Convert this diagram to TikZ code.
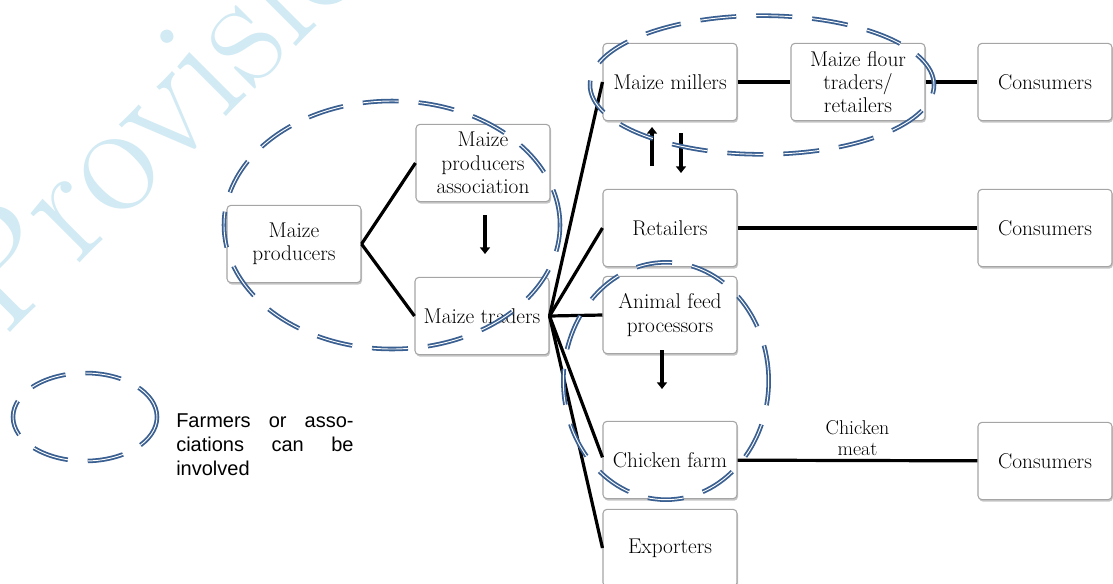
\documentclass[tikz,border=0pt]{standalone}
\usepackage{fontspec}
\newfontfamily\legendfont{Liberation Sans}
\usetikzlibrary{shadows,arrows.meta}

\definecolor{ovalblue}{RGB}{58,95,145}
\definecolor{wmblue}{RGB}{210,234,243}
\definecolor{boxedge}{RGB}{165,165,165}

\begin{document}
\begin{tikzpicture}[x=0.75pt,y=-0.75pt,
  stage/.style={draw=boxedge, line width=0.8pt, fill=white, rounded corners=3pt,
    minimum width=100.5pt, minimum height=58pt, align=center, inner sep=2pt,
    font=\fontsize{16}{17.5}\selectfont,
    drop shadow={shadow xshift=0.8pt, shadow yshift=-1.5pt, fill=black!45, opacity=0.5}},
  link/.style={line width=2.4pt, black},
  flow/.style={line width=3pt, -{Triangle[width=7.5pt,length=5pt]}},
  oval/.style={draw=ovalblue, line width=3.4pt, dash pattern=on 27pt off 15pt,
    postaction={draw=white, line width=0.7pt, dash pattern=on 27pt off 15pt}},
]
\useasboundingbox (0,0) rectangle (1113,583);

% watermark
\begin{scope}
  \clip (0,0) rectangle (1113,583);
  \node[rotate=45, text=wmblue, anchor=base west, inner sep=0pt,
        font=\fontsize{122}{122}\selectfont] (wm) at (4,339) {Provisional};
\end{scope}

% stages of the chain
\node[stage] (prod)  at (294,244) {Maize\\producers};
\node[stage] (assoc) at (483,163) {Maize\\producers\\association};
\node[stage] (trad)  at (482,316) {Maize traders};
\node[stage] (mill)  at (670,82)  {Maize millers};
\node[stage] (flour) at (858,82)  {Maize flour\\traders/\\retailers};
\node[stage] (cons1) at (1045,82) {Consumers};
\node[stage] (ret)   at (670,228) {Retailers};
\node[stage] (cons2) at (1045,228) {Consumers};
\node[stage] (feed)  at (670,315) {Animal feed\\processors};
\node[stage] (chick) at (670,460) {Chicken farm};
\node[stage] (cons3) at (1045,461) {Consumers};
\node[stage] (exp)   at (670,548) {Exporters};

% links
\draw[link] (prod.east) -- (assoc.west);
\draw[link] (prod.east) -- (trad.west);
\draw[link] (trad.east) -- (mill.west);
\draw[link] (trad.east) -- (ret.west);
\draw[link] (trad.east) -- (feed.west);
\draw[link] (trad.east) -- ([yshift=2pt]chick.west);
\draw[link] (trad.east) -- (exp.west);
\draw[link] (mill) -- (flour);
\draw[link] (flour) -- (cons1);
\draw[link] (ret) -- (cons2);
\draw[link] (chick) -- node[above=-1pt, align=center, font=\fontsize{15}{15.5}\selectfont] (meat) {Chicken\\meat} (cons3);

% flows
\coordinate (a1) at (485,215); \coordinate (a2) at (485,254);
\draw[flow] (a1) -- (a2);
\coordinate (b1) at (652,166); \coordinate (b2) at (652,127);
\draw[flow] (b1) -- (b2);
\coordinate (c1) at (681,133); \coordinate (c2) at (681,173);
\draw[flow] (c1) -- (c2);
\coordinate (d1) at (662,350); \coordinate (d2) at (662,389);
\draw[flow] (d1) -- (d2);

% groups where farmers or associations take part
\draw[oval] (392,225) ellipse [x radius=126pt, y radius=93pt];
\draw[oval] (762,85) ellipse [x radius=129pt, y radius=52pt];
\draw[oval] (666,381) ellipse [x radius=77pt, y radius=89pt];

% legend
\draw[oval] (85,417) ellipse [x radius=54pt, y radius=33pt];
\node[anchor=north west, inner sep=0pt] (legend) at (176,413)
  {\parbox{133pt}{\legendfont\fontsize{15}{18}\selectfont
   Farmers or asso-\linebreak ciations can be\linebreak involved}};
\end{tikzpicture}
\end{document}
